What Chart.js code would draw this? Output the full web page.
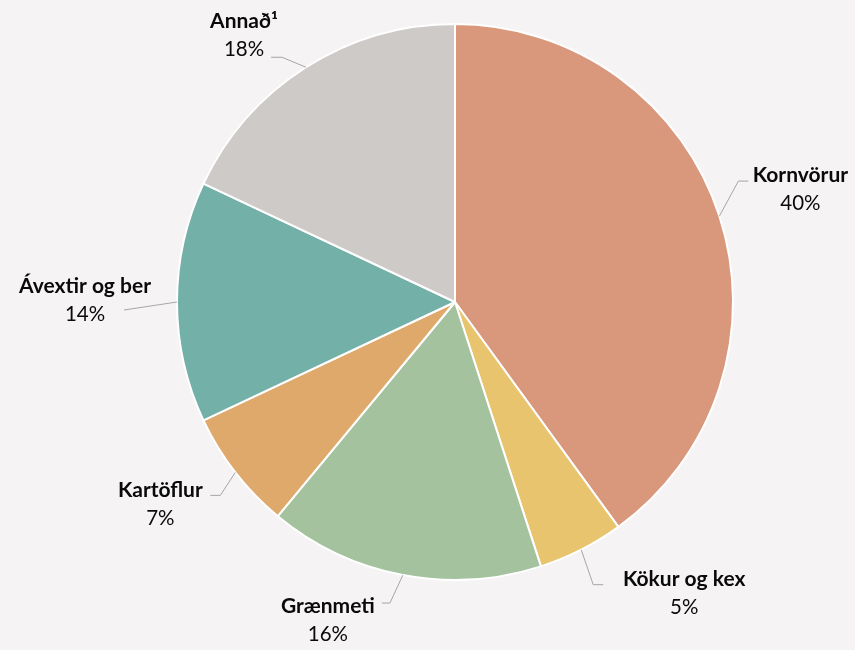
<!DOCTYPE html>
<html><head><meta charset="utf-8">
<script src="https://cdn.jsdelivr.net/npm/chart.js@4/dist/chart.umd.min.js"></script>
<style>html,body{margin:0;padding:0;background:#F5F3F4;}#wrap{width:855px;height:650px;position:relative;}</style>
</head><body><div id="wrap"><canvas id="c" width="855" height="650"></canvas></div>
<script>
const categories = ["Kornvörur", "Kökur og kex", "Grænmeti", "Kartöflur", "Ávextir og ber", "Annað¹"];
const shares = [40, 5, 16, 7, 14, 18];
const colors = ["#D9977B", "#E9C46F", "#A4C29E", "#DFA96B", "#73B0A8", "#CECAC8"];

// label placement relative to the slice's outer mid point: [labelDx, labelDy, elbowDx, elbowDy, endDx, endDy]
const labelLayout = [
  [81, -27, 19, -35, 29, -35],
  [103, 44, 12, 35, 22, 35],
  [-75, 45, -13, 28, -21, 28],
  [-75, 32, -15, 23, -25, 23],
  [-92, -2, -53, 8, -53, 8],
  [-62, -32, -24, -10, -35, -10]
];

const labelPlugin = {
  id: 'outerLabels',
  afterDatasetsDraw(chart) {
    const ctx = chart.ctx;
    const meta = chart.getDatasetMeta(0);
    meta.data.forEach((arc, i) => {
      const p = arc.getProps(['x','y','startAngle','endAngle','outerRadius'], true);
      const mid = (p.startAngle + p.endAngle) / 2;
      const ex = p.x + Math.cos(mid) * p.outerRadius;
      const ey = p.y + Math.sin(mid) * p.outerRadius;
      const L = labelLayout[i];
      ctx.save();
      ctx.strokeStyle = '#A6A6A6';
      ctx.lineWidth = 1;
      ctx.beginPath();
      ctx.moveTo(ex, ey);
      ctx.lineTo(ex + L[2], ey + L[3]);
      ctx.lineTo(ex + L[4], ey + L[5]);
      ctx.stroke();
      const lx = ex + L[0], ly = ey + L[1];
      ctx.fillStyle = '#0A0A0A';
      ctx.textAlign = 'center';
      ctx.textBaseline = 'middle';
      ctx.font = 'bold 21px Lato, "Open Sans", sans-serif';
      ctx.fillText(categories[i], lx, ly - 14);
      ctx.font = '20.5px Lato, "Open Sans", sans-serif';
      ctx.fillText(shares[i] + '%', lx, ly + 14);
      ctx.restore();
    });
  }
};

new Chart(document.getElementById('c'), {
  type: 'pie',
  data: {
    labels: categories,
    datasets: [{
      data: shares,
      backgroundColor: colors,
      borderColor: '#FFFFFF',
      borderWidth: 2
    }]
  },
  options: {
    responsive: false,
    animation: false,
    layout: { padding: { left: 176, right: 121, top: 23, bottom: 69 } },
    plugins: { legend: { display: false }, tooltip: { enabled: false } }
  },
  plugins: [labelPlugin]
});
</script></body></html>
